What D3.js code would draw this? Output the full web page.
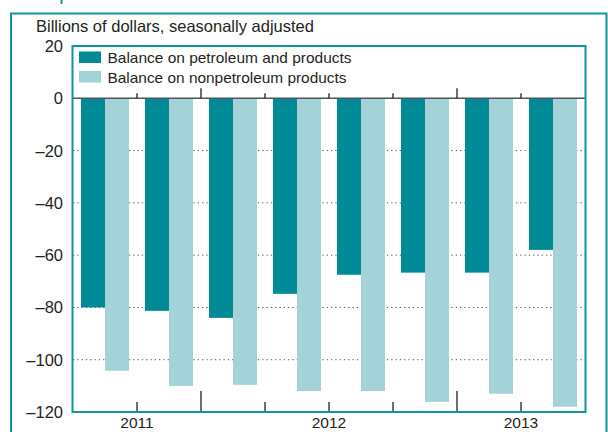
<!DOCTYPE html>
<html>
<head>
<meta charset="utf-8">
<script src="https://cdn.jsdelivr.net/npm/d3@7"></script>
<style>
  body { margin: 0; background: #fff; }
  text { font-family: "Liberation Sans", Arial, sans-serif; fill: #231f20; }
</style>
</head>
<body>
<svg id="chart"></svg>
<script>
// quarterly data, 2011 Q3 - 2013 Q2
const quarters = ['2011Q3', '2011Q4', '2012Q1', '2012Q2', '2012Q3', '2012Q4', '2013Q1', '2013Q2'];
const petroleum = [-80, -81.3, -84, -74.8, -67.5, -66.7, -66.7, -58];
const nonpetroleum = [-104.2, -110, -109.6, -112, -112, -116.1, -113, -118];
const seriesNames = ['Balance on petroleum and products', 'Balance on nonpetroleum products'];
const yTicks = [20, 0, -20, -40, -60, -80, -100, -120];
const gridTicks = [-20, -40, -60, -80, -100];
const yearLabels = ['2011', '2012', '2013'];
const yearStart = [0, 2, 6];
const yearEnd = [2, 6, 8];

const width = 608, height = 432;
const margin = {top: 46, right: 23, bottom: 20, left: 73};
const colors = ['#008a96', '#a3d2d8'];
const teal = '#0e959e';

const svg = d3.select('#chart')
    .attr('width', width)
    .attr('height', height);

// outer panel frame
svg.append('rect')
    .attr('x', 11).attr('y', 13.5)
    .attr('width', 595.5).attr('height', 440)
    .attr('fill', 'none')
    .attr('stroke', teal)
    .attr('stroke-width', 2);
svg.append('rect')
    .attr('x', 60.5).attr('y', 0)
    .attr('width', 2).attr('height', 4)
    .attr('fill', teal);

const innerW = width - margin.left - margin.right;
const innerH = height - margin.top - margin.bottom;

const chart = svg.append('g')
    .attr('transform', `translate(${margin.left}, ${margin.top})`);

const xscale = d3.scaleBand()
    .domain(quarters)
    .range([0, innerW]);

const sub = d3.scaleBand()
    .domain([0, 1])
    .range([8, xscale.bandwidth() - 8]);

const yscale = d3.scaleLinear()
    .domain([-120, 20])
    .range([innerH, 0]);

// dotted grid lines
chart.selectAll('.grid')
    .data(gridTicks)
    .join('line')
    .attr('class', 'grid')
    .attr('x1', 0).attr('x2', innerW)
    .attr('y1', d => yscale(d)).attr('y2', d => yscale(d))
    .attr('stroke', '#555')
    .attr('stroke-width', 1)
    .attr('stroke-dasharray', '1.3,3');

// bars
const series = [petroleum, nonpetroleum];
series.forEach((vals, s) => {
    chart.selectAll(`.bar${s}`)
        .data(vals)
        .join('rect')
        .attr('class', `bar${s}`)
        .attr('x', (d, i) => xscale(quarters[i]) + sub(s))
        .attr('y', d => yscale(Math.max(0, d)))
        .attr('width', sub.bandwidth())
        .attr('height', d => Math.abs(yscale(d) - yscale(0)))
        .attr('fill', colors[s]);
});

// zero line
chart.append('line')
    .attr('x1', 0).attr('x2', innerW)
    .attr('y1', yscale(0)).attr('y2', yscale(0))
    .attr('stroke', '#555')
    .attr('stroke-width', 1.4);

// quarter ticks on zero line and bottom
const boundaries = d3.range(1, quarters.length);
const isYear = i => yearStart.includes(i);
chart.selectAll('.ztick')
    .data(boundaries)
    .join('line')
    .attr('x1', i => xscale(quarters[i])).attr('x2', i => xscale(quarters[i]))
    .attr('y1', yscale(0))
    .attr('y2', i => yscale(0) - (isYear(i) ? 10 : 5))
    .attr('stroke', '#231f20')
    .attr('stroke-width', 1.3);
chart.selectAll('.btick')
    .data(boundaries)
    .join('line')
    .attr('x1', i => xscale(quarters[i])).attr('x2', i => xscale(quarters[i]))
    .attr('y1', innerH)
    .attr('y2', i => innerH - (isYear(i) ? 21 : 10))
    .attr('stroke', '#231f20')
    .attr('stroke-width', 1.3);

// plot frame
chart.append('rect')
    .attr('x', -0.5).attr('y', 0)
    .attr('width', innerW + 1).attr('height', innerH)
    .attr('fill', 'none')
    .attr('stroke', teal)
    .attr('stroke-width', 2);

// y tick labels
const yfmt = d => d < 0 ? '\u2013' + Math.abs(d) : String(d);
svg.selectAll('.ylab')
    .data(yTicks)
    .join('text')
    .attr('x', 63)
    .attr('y', d => margin.top + yscale(d))
    .attr('dy', '0.36em')
    .attr('text-anchor', 'end')
    .style('font-size', '16.5px')
    .text(yfmt);

// year labels
const xEdge = i => i >= quarters.length ? innerW : xscale(quarters[i]);
svg.selectAll('.year')
    .data(yearLabels)
    .join('text')
    .attr('x', (d, i) => margin.left + (xEdge(yearStart[i]) + xEdge(yearEnd[i])) / 2)
    .attr('y', 428)
    .attr('text-anchor', 'middle')
    .style('font-size', '15.5px')
    .text(d => d);

// unit title
svg.append('text')
    .attr('x', 36)
    .attr('y', 31.5)
    .style('font-size', '16.5px')
    .text('Billions of dollars, seasonally adjusted');

// legend
const legend = svg.append('g')
    .attr('transform', 'translate(79, 51.5)');
seriesNames.forEach((name, s) => {
    legend.append('rect')
        .attr('x', 0).attr('y', s * 19.5)
        .attr('width', 22).attr('height', 11.5)
        .attr('fill', colors[s]);
    legend.append('text')
        .attr('x', 28.5)
        .attr('y', s * 19.5 + 11.5)
        .style('font-size', '15px')
        .attr('textLength', s === 0 ? 244 : 239)
        .attr('lengthAdjust', 'spacingAndGlyphs')
        .text(name);
});
</script>
</body>
</html>
